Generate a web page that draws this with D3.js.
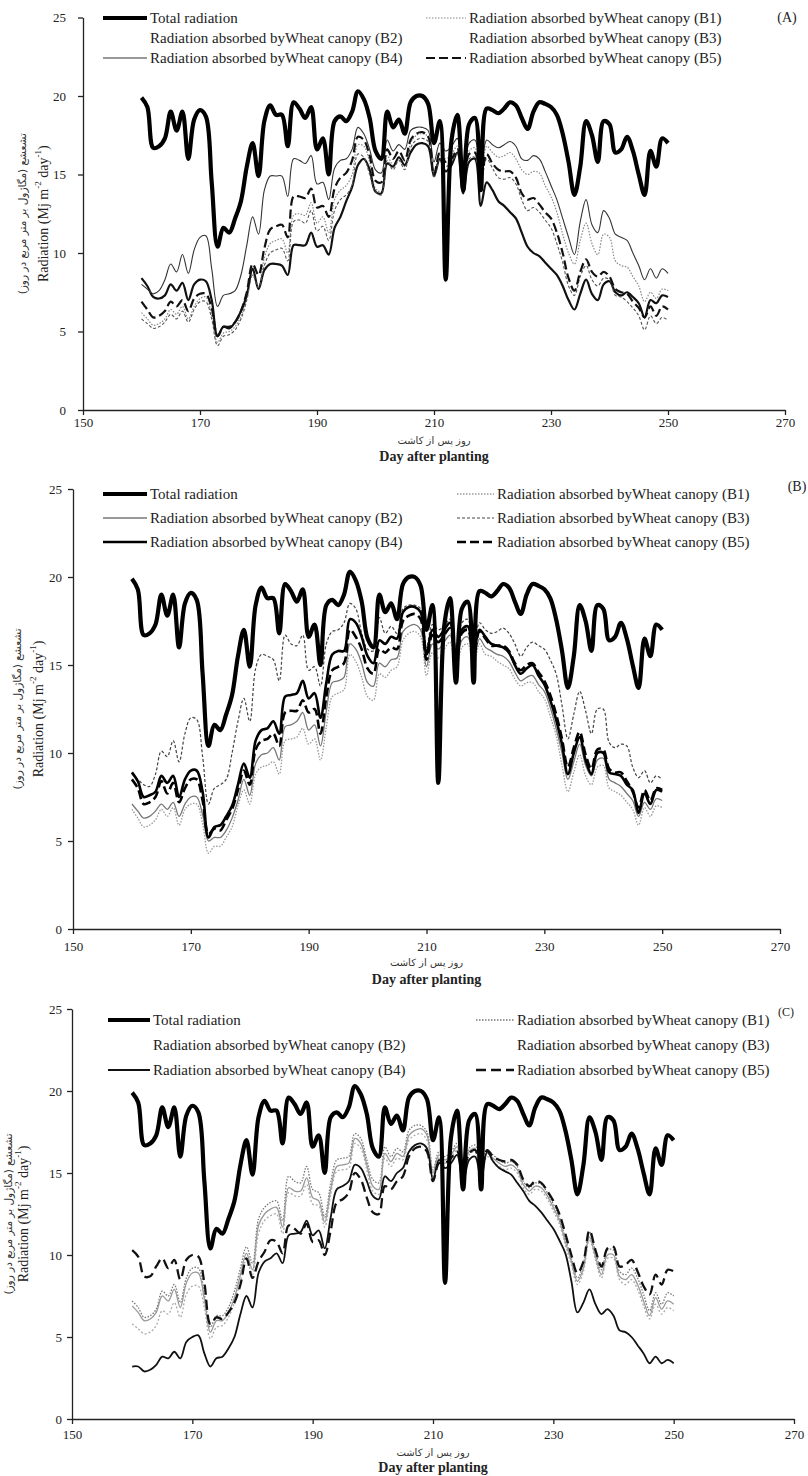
<!DOCTYPE html>
<html><head><meta charset="utf-8">
<script src="https://cdn.jsdelivr.net/npm/d3@7"></script>
<style>body{margin:0;background:#fff}svg{display:block}</style>
</head><body><svg id="c" width="808" height="1476"></svg>
<script>
const days = [160,161,162,163,164,165,166,167,168,169,170,171,172,173,174,175,176,177,178,179,180,181,182,183,184,185,186,187,188,189,190,191,192,193,194,195,196,197,198,199,200,201,202,203,204,205,206,207,208,209,210,211,212,213,214,215,216,217,218,219,220,221,222,223,224,225,226,227,228,229,230,231,232,233,234,235,236,237,238,239,240,241,242,243,244,245,246,247,248,249,250];
const xTicks = [150,170,190,210,230,250,270];
const yTicks = [0,5,10,15,20,25];
const legendLabels = ["Total radiation","Radiation absorbed byWheat canopy (B1)","Radiation absorbed byWheat canopy (B2)","Radiation absorbed byWheat canopy (B3)","Radiation absorbed byWheat canopy (B4)","Radiation absorbed byWheat canopy (B5)"];
const panelTags = ["(A)","(B)","(C)"];
const xTitleFa = "روز پس از کاشت";
const xTitleEn = "Day after planting";
const yTitleFa = "تشعشع (مگاژول بر متر مربع در روز)";

const totalRadiation = [19.9,19.3,16.7,16.8,17.3,19.0,17.8,19.0,16.0,18.5,
 19.1,18.7,14.5,10.4,11.6,11.3,12.2,13.3,15.5,17.0,
 14.9,18.4,19.4,18.8,18.8,16.8,19.6,19.2,18.6,19.3,
 16.6,17.3,15.0,18.4,18.7,18.4,19.0,20.3,19.8,18.6,
 16.5,16.0,19.0,18.0,18.5,17.6,19.6,20.0,20.0,19.5,
 17.0,18.4,8.3,17.2,18.8,14.0,18.2,18.6,14.0,19.2,
 19.1,18.9,19.2,19.6,19.4,18.6,17.9,19.0,19.6,19.5,
 19.3,18.8,17.6,15.8,13.7,15.5,18.4,17.5,15.8,18.4,
 18.2,16.4,16.6,17.4,16.5,15.0,13.7,16.5,15.5,17.3,
 17.0];

// Panel A
const A_B1 = [6.2,5.8,5.4,5.5,5.8,6.4,6.1,6.6,5.8,6.6,
 7.1,7.2,6.0,4.3,4.9,5.0,5.3,6.0,7.2,8.6,
 7.9,9.7,10.6,10.8,10.9,10.0,12.4,12.5,12.4,13.2,
 11.9,12.3,11.3,13.4,14.0,14.3,15.0,16.9,16.8,15.8,
 14.1,13.9,16.2,15.6,16.1,15.5,17.0,17.5,17.6,17.4,
 15.0,16.4,16.0,16.3,16.8,14.6,16.5,16.7,15.0,16.8,
 16.4,16.1,16.2,16.4,16.0,15.3,15.0,15.2,15.1,14.3,
 13.6,12.6,11.2,10.0,9.3,10.8,11.9,10.6,9.9,11.2,
 11.0,9.5,9.2,9.1,8.5,7.9,6.9,7.5,7.1,7.7,
 7.6];
const A_B2 = [8.4,7.9,7.2,7.1,7.3,8.0,7.6,8.1,7.0,8.0,
 8.3,8.2,7.0,4.7,5.3,5.2,5.6,6.3,7.3,9.0,
 7.7,8.9,9.3,9.3,9.2,8.6,10.5,10.5,10.5,11.3,
 10.4,10.5,9.9,11.6,12.3,13.3,14.2,15.6,16.0,15.3,
 13.9,13.8,15.7,15.5,16.1,15.6,16.4,16.9,17.0,16.8,
 14.9,16.0,15.2,15.6,16.4,13.8,15.8,16.0,13.0,14.5,
 14.0,13.3,13.0,12.6,12.2,11.3,10.4,10.0,9.8,9.4,
 9.0,8.6,7.9,7.0,6.4,7.4,8.3,7.4,7.0,8.0,
 8.2,7.5,7.3,7.5,7.2,6.8,5.9,7.0,6.8,7.3,
 7.2];
const A_B3 = [5.8,5.5,5.2,5.3,5.6,6.1,5.8,6.3,5.6,6.4,
 6.9,6.9,5.8,4.1,4.7,4.8,5.1,5.8,7.0,8.6,
 7.8,9.2,10.0,10.2,10.3,9.5,12.0,12.1,11.9,12.7,
 11.4,11.7,10.8,12.7,13.4,13.7,14.3,16.3,16.1,15.0,
 13.9,13.7,15.9,15.3,15.9,15.3,16.7,17.2,17.3,17.1,
 14.8,16.0,15.5,15.8,16.3,14.0,16.0,16.1,14.5,16.0,
 15.4,14.8,14.7,14.8,14.4,13.4,12.7,12.9,12.6,12.1,
 11.6,10.6,9.4,7.9,7.3,8.5,9.2,8.3,7.9,8.4,
 8.3,7.3,7.2,6.9,6.5,6.0,5.1,6.0,5.5,5.9,
 5.7];
const A_B4 = [8.0,7.7,7.4,7.6,8.3,9.3,8.8,9.9,8.7,10.2,
 11.0,11.1,9.0,6.6,7.3,7.4,7.6,8.6,10.5,12.3,
 11.2,14.0,14.9,14.9,14.9,13.6,16.0,15.9,15.7,16.2,
 14.4,14.5,13.4,15.4,15.9,16.0,16.6,18.0,17.6,16.6,
 15.3,15.1,17.2,16.5,16.9,16.6,17.8,18.0,18.0,17.8,
 15.8,17.0,16.5,16.8,17.3,15.0,17.0,17.2,15.5,17.2,
 16.9,16.7,16.9,17.1,16.8,16.0,15.9,16.2,16.0,15.2,
 14.3,13.4,12.2,11.0,9.9,12.0,13.4,11.8,11.3,12.7,
 12.2,11.2,11.0,10.8,10.0,9.2,8.3,9.0,8.4,9.0,
 8.7];
const A_B5 = [6.9,6.4,5.9,6.0,6.3,6.9,6.6,7.0,6.3,7.1,
 7.4,7.4,6.5,4.7,5.3,5.3,5.6,6.3,7.5,9.3,
 8.6,10.3,11.5,11.7,11.8,11.0,13.6,13.6,13.5,14.1,
 12.9,13.0,12.3,14.1,14.8,15.1,15.9,17.4,17.2,16.2,
 14.6,14.5,16.6,16.0,16.5,15.9,17.2,17.6,17.7,17.4,
 15.0,16.4,15.8,16.0,16.6,14.2,16.3,16.4,14.8,16.3,
 15.7,15.3,15.2,15.2,14.8,13.8,13.4,13.5,13.1,12.6,
 12.2,11.3,10.0,8.4,7.6,8.8,9.6,8.8,8.5,8.8,
 8.5,7.7,7.5,7.4,6.9,6.5,5.9,6.6,6.0,6.6,
 6.4];

// Panel B
const B_B1 = [6.8,6.3,5.8,5.9,6.2,6.8,6.4,6.9,5.9,6.8,
 7.1,7.1,6.0,4.3,4.7,4.7,5.2,5.8,7.0,7.9,
 7.1,8.8,9.2,9.3,9.5,8.8,10.7,10.8,10.9,11.4,
 10.5,10.8,9.6,11.5,13.2,13.4,13.6,15.6,15.2,14.3,
 13.2,13.0,14.5,14.3,14.7,14.9,16.4,16.8,16.9,16.6,
 14.4,15.7,15.4,15.9,16.3,14.5,16.0,16.2,14.9,16.2,
 15.6,15.5,15.2,15.0,14.8,14.2,13.8,14.0,14.0,13.5,
 13.1,12.1,11.0,9.3,7.8,8.9,9.9,8.7,8.2,9.2,
 9.3,8.0,7.8,7.6,7.2,6.8,5.9,6.9,6.4,7.0,
 6.9];
const B_B2 = [7.1,6.7,6.3,6.4,6.7,7.1,6.8,7.2,6.4,7.1,
 7.5,7.5,6.5,5.0,5.2,5.2,5.6,6.3,7.3,8.5,
 7.6,9.4,9.9,10.0,10.3,9.6,11.5,11.6,11.8,12.3,
 11.3,11.6,10.4,12.4,14.0,14.1,14.3,16.2,15.9,15.1,
 14.0,13.8,15.1,14.9,15.3,15.4,16.9,17.2,17.3,17.0,
 14.9,16.2,15.9,16.3,16.7,14.9,16.4,16.6,15.2,16.5,
 16.0,15.8,15.6,15.5,15.2,14.6,14.1,14.3,14.4,13.9,
 13.5,12.6,11.4,10.0,8.5,9.5,10.5,9.3,8.7,9.6,
 9.7,8.5,8.3,8.1,7.7,7.3,6.4,7.2,6.8,7.4,
 7.3];
const B_B3 = [8.8,8.5,8.2,8.1,8.8,10.1,9.8,10.7,9.5,11.1,
 12.0,11.9,9.8,7.1,8.0,8.2,8.5,10.0,11.8,13.1,
 11.8,14.8,15.6,15.5,15.3,14.1,16.7,16.2,16.1,16.7,
 14.7,14.9,13.8,16.2,16.9,17.0,17.4,18.5,18.2,16.8,
 15.9,15.8,17.7,16.8,17.2,16.8,18.2,18.4,18.4,18.2,
 16.0,17.3,17.0,17.2,17.6,16.0,17.4,17.6,16.2,17.4,
 17.0,16.8,16.9,17.1,16.8,16.2,15.5,16.0,16.3,16.1,
 15.9,15.3,14.5,12.7,10.8,12.2,13.5,12.4,11.1,12.5,
 12.5,10.6,10.3,10.5,10.4,9.2,8.6,9.0,8.3,8.7,
 8.5];
const B_B4 = [8.9,8.4,7.5,7.6,7.8,8.7,8.3,8.7,7.5,8.5,
 9.0,9.0,7.8,5.2,5.8,5.9,6.4,7.0,8.2,9.4,
 8.6,10.7,11.3,11.4,11.8,11.1,13.2,13.3,13.4,14.1,
 13.1,13.4,12.0,14.0,15.6,15.8,15.8,17.6,17.4,16.6,
 15.5,15.1,16.4,16.2,16.6,16.5,18.0,18.3,18.3,18.0,
 15.6,17.0,16.6,17.0,17.4,15.6,17.0,17.2,15.8,17.0,
 16.6,16.2,16.1,16.0,15.7,15.0,14.5,14.8,15.0,14.4,
 13.9,13.0,11.9,10.5,8.8,10.0,10.9,9.6,8.8,10.0,
 10.0,8.9,8.8,8.7,8.2,7.9,6.6,7.7,7.1,7.9,
 7.8];
const B_B5 = [8.5,8.0,7.1,7.2,7.5,8.4,7.7,8.3,7.2,8.0,
 8.5,8.5,7.3,5.4,5.7,5.6,6.2,6.8,7.9,9.0,
 8.2,10.2,10.7,10.8,11.1,10.4,12.3,12.4,12.4,13.0,
 12.3,12.5,11.1,13.2,14.7,14.9,15.1,17.0,16.6,15.9,
 14.8,14.5,15.9,15.7,16.0,15.9,17.5,17.8,17.9,17.6,
 15.3,16.7,16.3,16.7,17.1,15.3,16.8,17.0,15.6,16.9,
 16.5,16.1,16.1,16.1,15.8,15.1,14.7,15.0,15.1,14.6,
 14.1,13.3,12.2,10.8,9.2,10.3,11.2,9.9,9.1,10.2,
 10.2,9.1,8.9,8.9,8.4,7.8,6.9,7.9,7.3,8.0,
 7.9];

// Panel C
const C_B1 = [7.2,6.8,6.2,6.3,6.7,7.8,7.5,8.2,7.1,8.6,
 9.2,9.2,7.6,5.6,6.3,6.3,6.8,7.8,9.2,10.5,
 9.5,12.2,12.9,13.2,13.3,12.1,14.8,14.5,14.4,15.4,
 14.0,13.8,12.3,14.4,15.8,15.9,16.0,17.4,17.1,15.8,
 14.6,14.4,16.6,16.0,16.5,16.3,17.6,17.9,17.9,17.5,
 15.2,16.3,16.0,16.3,16.8,15.2,16.5,16.7,15.4,16.4,
 16.1,15.8,15.6,15.7,15.4,14.5,14.1,14.4,14.3,13.8,
 13.1,12.3,11.0,9.8,8.6,9.5,11.4,10.2,9.1,10.3,
 10.3,9.0,8.8,9.2,8.6,7.6,6.6,7.7,7.0,7.7,
 7.5];
const C_B2 = [6.9,6.5,6.0,6.1,6.5,7.5,7.2,7.9,6.8,8.3,
 8.9,8.9,7.3,5.3,6.0,6.0,6.5,7.4,8.8,10.1,
 9.1,11.8,12.5,12.8,12.9,11.7,14.1,13.9,13.9,14.7,
 13.5,13.3,12.0,14.0,15.4,15.5,15.6,17.1,16.8,15.5,
 14.2,14.0,16.2,15.7,16.2,16.0,17.3,17.6,17.7,17.3,
 15.0,16.1,15.8,16.1,16.6,15.0,16.3,16.5,15.2,16.2,
 15.9,15.6,15.4,15.5,15.2,14.3,13.9,14.2,14.1,13.6,
 12.9,12.1,10.8,9.6,8.4,9.2,11.1,9.9,8.8,10.0,
 10.0,8.7,8.5,8.8,8.2,7.2,6.3,7.4,6.7,7.2,
 7.0];
const C_B3 = [5.8,5.5,5.2,5.3,5.7,6.6,6.4,7.1,6.2,7.6,
 8.1,8.1,6.8,4.9,5.6,5.7,6.2,7.1,8.4,9.7,
 8.8,11.3,12.1,12.4,12.5,11.3,13.8,13.6,13.6,14.3,
 13.1,13.0,11.7,13.7,15.1,15.2,15.3,16.8,16.5,15.2,
 13.9,13.7,15.9,15.4,15.9,15.8,17.0,17.3,17.4,17.0,
 14.8,15.9,15.6,15.9,16.4,14.8,16.1,16.3,15.0,16.0,
 15.7,15.4,15.2,15.3,15.0,14.1,13.7,14.0,13.9,13.4,
 12.7,11.9,10.6,9.4,8.2,9.0,10.9,9.7,8.6,9.8,
 9.8,8.5,8.2,8.5,7.9,6.9,6.1,7.0,6.4,6.8,
 6.6];
const C_B4 = [3.2,3.2,2.9,3.0,3.3,3.8,3.7,4.1,3.7,4.7,
 5.0,5.1,4.0,3.2,3.7,3.8,4.3,5.0,6.4,7.5,
 6.8,8.9,9.6,9.8,10.1,9.5,11.2,11.3,11.4,12.1,
 11.2,11.5,10.4,12.3,14.0,14.2,14.5,15.5,15.3,14.5,
 13.6,13.4,14.8,14.5,15.0,15.3,16.3,16.7,16.8,16.5,
 14.6,15.8,15.3,15.6,16.1,14.4,15.8,16.0,14.6,16.3,
 15.7,15.3,15.1,14.9,14.4,13.9,13.3,13.0,12.6,12.1,
 11.6,10.9,10.1,8.4,6.5,7.1,7.9,7.0,6.4,6.7,
 6.3,5.4,5.3,5.0,4.5,4.0,3.4,3.8,3.4,3.6,
 3.4];
const C_B5 = [10.3,9.9,8.7,8.7,9.3,9.8,9.2,9.7,8.5,9.7,
 10.0,9.9,8.3,5.8,6.2,6.1,6.5,7.1,8.2,9.8,
 8.6,9.6,10.2,10.9,10.8,10.1,11.8,11.6,11.3,11.9,
 10.8,10.9,10.0,11.5,13.2,13.4,13.8,15.0,14.6,13.5,
 12.6,12.5,14.2,14.0,14.5,14.8,16.0,16.5,16.6,16.3,
 14.5,15.6,15.6,15.9,16.3,15.0,16.2,16.4,15.2,16.4,
 16.0,15.8,15.7,15.8,15.5,14.6,14.2,14.5,14.4,13.9,
 13.3,12.5,11.3,10.0,8.9,9.6,11.5,10.3,9.3,10.4,
 10.5,9.3,9.4,9.7,9.0,8.1,7.6,8.8,8.2,9.1,
 9.0];

// ---------- layout & styling ----------
const FONT = "'Liberation Serif','Times New Roman','DejaVu Serif',serif";
const totalStyle = {color:"#000", w:4.2, dash:null};
const panels = [
  { tag:panelTags[0], series:[A_B1,A_B2,A_B3,A_B4,A_B5],
    styles:[{color:"#888",w:1.2,dash:"1.5,1.5"},{color:"#111",w:2.2,dash:null},{color:"#555",w:1.1,dash:"3,2"},{color:"#333",w:1.1,dash:null},{color:"#111",w:2.2,dash:"9,4"}],
    hideSample:[false,false,true,true,false,false],
    x0:83, x1:785, yT:17.5, yB:410, yPad:12, xPad:3,
    rows:[18,38,58], cols:[[103,147],[426,466]], tagXY:[787,22], tagSize:14,
    yTitleX:[22,43], xTitleY:[444,461] },
  { tag:panelTags[1], series:[B_B1,B_B2,B_B3,B_B4,B_B5],
    styles:[{color:"#999",w:1.3,dash:"1.5,1.5"},{color:"#777",w:1.3,dash:null},{color:"#444",w:1.2,dash:"3,2"},{color:"#000",w:2.6,dash:null},{color:"#000",w:2.6,dash:"9,4"}],
    hideSample:[false,false,false,false,false,false],
    x0:73, x1:780, yT:489, yB:929, yPad:6, xPad:8,
    rows:[494,518,542], cols:[[103,147],[457,494]], tagXY:[797,491], tagSize:14,
    yTitleX:[17,38], xTitleY:[966,984] },
  { tag:panelTags[2], series:[C_B1,C_B2,C_B3,C_B4,C_B5],
    styles:[{color:"#777",w:1.3,dash:"1.5,1.5"},{color:"#999",w:1.3,dash:null},{color:"#aaa",w:1.3,dash:"2,2"},{color:"#111",w:1.8,dash:null},{color:"#111",w:2.3,dash:"10,5"}],
    hideSample:[false,false,true,true,false,false],
    x0:72, x1:794, yT:1009, yB:1419, yPad:5, xPad:6,
    rows:[1020,1045,1070], cols:[[108,150],[476,514]], tagXY:[786,1016], tagSize:12,
    yTitleX:[8,23], xTitleY:[1456,1472] }
];

const svg = d3.select("#c");

panels.forEach(p => {
  const g = svg.append("g");
  const x = d3.scaleLinear().domain([150,270]).range([p.x0,p.x1]);
  const y = d3.scaleLinear().domain([0,25]).range([p.yB,p.yT]);

  const ax = g.append("g").attr("transform",`translate(0,${p.yB})`)
    .call(d3.axisBottom(x).tickValues(xTicks).tickFormat(d3.format("d")).tickSize(5).tickSizeOuter(0).tickPadding(p.xPad));
  const ay = g.append("g").attr("transform",`translate(${p.x0},0)`)
    .call(d3.axisLeft(y).tickValues(yTicks).tickFormat(d3.format("d")).tickSize(5).tickSizeOuter(0).tickPadding(p.yPad));
  [ax,ay].forEach(a => {
    a.attr("font-family",FONT).attr("font-size",13);
    a.selectAll("path,line").attr("stroke","#222").attr("stroke-width",1.3);
    a.selectAll("text").attr("fill","#222");
  });

  const line = d3.line().x(d=>x(d[0])).y(d=>y(d[1])).curve(d3.curveCatmullRom.alpha(0.5));
  const allSeries = [{vals:totalRadiation, st:totalStyle}].concat(p.series.map((s,i)=>({vals:s, st:p.styles[i]})));
  allSeries.slice(1).concat([allSeries[0]]).forEach(s => {
    g.append("path").datum(days.map((d,i)=>[d,s.vals[i]]))
      .attr("d",line).attr("fill","none")
      .attr("stroke",s.st.color).attr("stroke-width",s.st.w)
      .attr("stroke-dasharray",s.st.dash)
      .attr("stroke-linejoin","round");
  });

  const styles = [totalStyle].concat(p.styles);
  legendLabels.forEach((lab,i) => {
    const row = Math.floor(i/2), col = i%2;
    const yy = p.rows[row];
    const [sx0,sx1] = p.cols[col];
    if (!p.hideSample[i]) {
      g.append("line").attr("x1",sx0).attr("x2",sx1).attr("y1",yy).attr("y2",yy)
        .attr("stroke",styles[i].color).attr("stroke-width",styles[i].w)
        .attr("stroke-dasharray",styles[i].dash);
    }
    g.append("text").attr("x",sx1+3).attr("y",yy).attr("dy","0.35em")
      .attr("font-family",FONT).attr("font-size",15).attr("fill","#222").text(lab);
  });

  g.append("text").attr("x",p.tagXY[0]).attr("y",p.tagXY[1]).attr("text-anchor","middle")
    .attr("font-family",FONT).attr("font-size",p.tagSize).attr("fill","#222").text(p.tag);

  const cx = (p.x0+p.x1)/2;
  g.append("text").attr("x",cx).attr("y",p.xTitleY[0]).attr("text-anchor","middle")
    .attr("font-family","'DejaVu Sans',sans-serif").attr("font-size",10).attr("fill","#333").text(xTitleFa);
  g.append("text").attr("x",cx).attr("y",p.xTitleY[1]).attr("text-anchor","middle")
    .attr("font-family",FONT).attr("font-size",14).attr("font-weight","bold").attr("fill","#222").text(xTitleEn);

  const cy = (p.yT+p.yB)/2;
  g.append("text").attr("transform",`translate(${p.yTitleX[0]},${cy}) rotate(-90)`)
    .attr("text-anchor","middle").attr("dominant-baseline","central")
    .attr("font-family","'DejaVu Sans',sans-serif").attr("font-size",10.5).attr("fill","#333").text(yTitleFa);
  const en = g.append("text").attr("transform",`translate(${p.yTitleX[1]},${cy}) rotate(-90)`)
    .attr("text-anchor","middle").attr("dominant-baseline","central")
    .attr("font-family",FONT).attr("font-size",14).attr("fill","#222");
  en.append("tspan").text("Radiation (Mj m");
  en.append("tspan").attr("baseline-shift","super").attr("font-size",9).text("-2");
  en.append("tspan").text(" day");
  en.append("tspan").attr("baseline-shift","super").attr("font-size",9).text("-1");
  en.append("tspan").text(")");
});
</script>
</body></html>
